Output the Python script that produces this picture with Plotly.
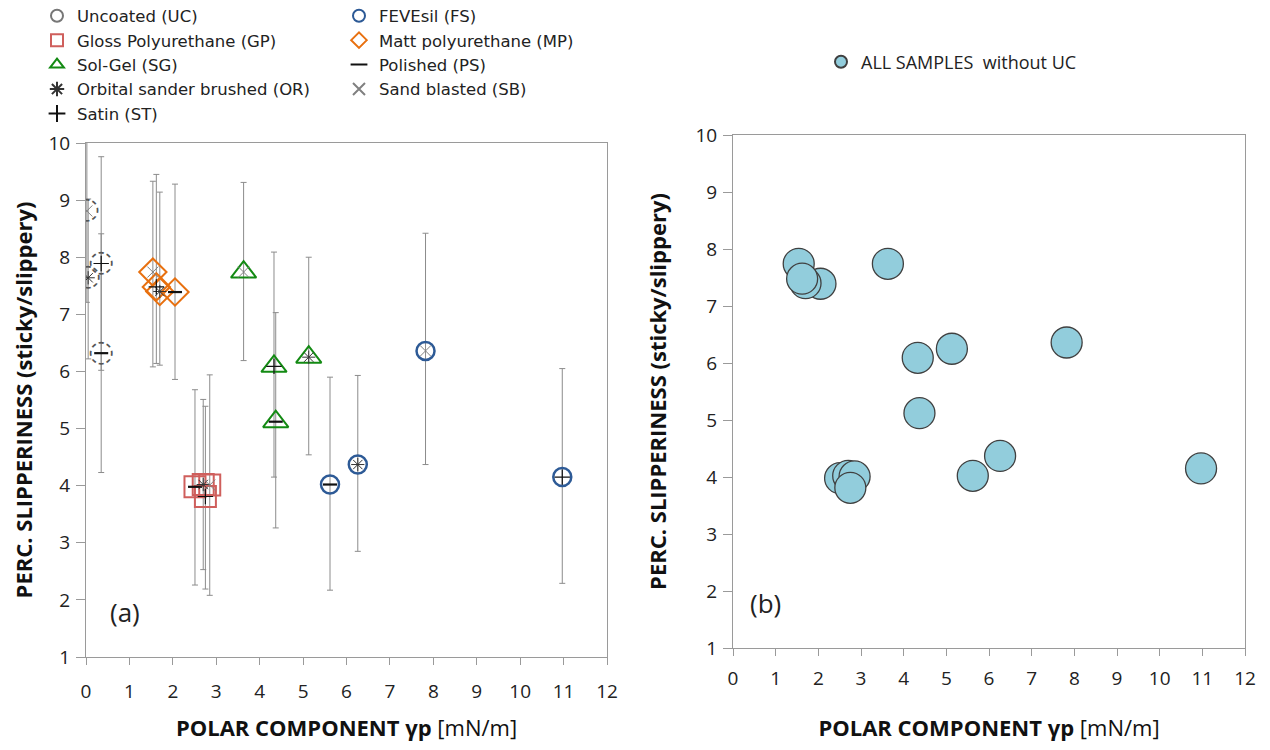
import plotly.graph_objects as go

# ---------------- data ----------------
finishes = ["PS", "OR", "SB", "ST"]   # order inside every coating array
finish_names = {"PS": "Polished (PS)", "OR": "Orbital sander brushed (OR)",
                "SB": "Sand blasted (SB)", "ST": "Satin (ST)"}

UC_x = [0.35, 0.05, 0.02, 0.35]
UC_y = [6.32, 7.64, 8.81, 7.89]
UC_up = [2.09, 1.38, 1.60, 1.87]
UC_dn = [2.09, 1.42, 1.60, 1.87]

GP_x = [2.51, 2.70, 2.85, 2.75]
GP_y = [3.98, 4.02, 4.01, 3.81]
GP_up = [1.70, 1.49, 1.93, 1.58]
GP_dn = [1.72, 1.49, 1.93, 1.62]

MP_x = [2.05, 1.70, 1.54, 1.62]
MP_y = [7.39, 7.40, 7.74, 7.48]
MP_up = [1.89, 1.74, 1.59, 1.97]
MP_dn = [1.53, 1.29, 1.66, 1.34]

SG_x = [4.37, 5.13, 3.63, 4.33]
SG_y = [5.12, 6.25, 7.74, 6.09]
SG_up = [1.91, 1.75, 1.57, 2.00]
SG_dn = [1.86, 1.71, 1.55, 1.94]

FS_x = [5.62, 6.26, 7.82, 10.97]
FS_y = [4.02, 4.37, 6.36, 4.15]
FS_up = [1.88, 1.56, 2.06, 1.90]
FS_dn = [1.85, 1.52, 1.99, 1.86]

x_ticks = list(range(0, 13))
y_ticks = list(range(1, 11))

# ---------------- layout helpers (page pixels -> figure fractions) ----------------
W, H, OFF = 1254, 734, 8          # page body adds an 8 px margin


def fx(px):
    return (px - OFF) / W


def fy(py):
    return 1 - (py - OFF) / H


FONT = "Open Sans"
ERR = dict(type="data", symmetric=False, color="#8C8C8C", thickness=1, width=3)

fig = go.Figure()

# ---- Uncoated: dashed circles drawn as glyphs ----
fig.add_trace(go.Scatter(
    x=UC_x, y=UC_y, mode="text", text=["◌"] * len(UC_x),
    textfont=dict(family="DejaVu Sans", size=30, color="#555555"),
    textposition="middle center",
    error_y=dict(ERR, array=UC_up, arrayminus=UC_dn),
    showlegend=False, xaxis="x", yaxis="y"))
fig.add_trace(go.Scatter(
    x=[None], y=[None], mode="markers", name="Uncoated (UC)",
    marker=dict(symbol="circle-open", size=11, color="#777777", line=dict(width=1)),
    legend="legend", legendrank=1))

coatings = [
    ("GP", "Gloss Polyurethane (GP)", GP_x, GP_y, GP_up, GP_dn, "square-open", 21, "#CF5F5C", 2, "legend", 2),
    ("MP", "Matt polyurethane (MP)", MP_x, MP_y, MP_up, MP_dn, "diamond-open", 21, "#E8700F", 2, "legend2", 2),
    ("SG", "Sol-Gel (SG)", SG_x, SG_y, SG_up, SG_dn, "triangle-up-open", 22, "#138A13", 2, "legend", 3),
    ("FS", "FEVEsil (FS)", FS_x, FS_y, FS_up, FS_dn, "circle-open", 18, "#2D5A96", 2.5, "legend2", 1),
]
for key, name, xs, ys, up, dn, sym, size, col, lw, leg, rank in coatings:
    fig.add_trace(go.Scatter(
        x=xs, y=ys, mode="markers", name=name,
        marker=dict(symbol=sym, size=size, color=col, line=dict(width=lw, color=col)),
        error_y=dict(ERR, array=up, arrayminus=dn),
        legend=leg, legendrank=rank, xaxis="x", yaxis="y"))

inner = {
    "PS": ("line-ew-open", 10, "#111111", 2.2, "legend2", 3),
    "OR": ("asterisk-open", 11, "#333333", 1, "legend", 4),
    "SB": ("x-thin-open", 11, "#808080", 1, "legend2", 4),
    "ST": ("cross-thin-open", 11, "#111111", 1.2, "legend", 5),
}
all_x = [UC_x, GP_x, MP_x, SG_x, FS_x]
all_y = [UC_y, GP_y, MP_y, SG_y, FS_y]
for i, f in enumerate(finishes):
    sym, size, col, lw, leg, rank = inner[f]
    fig.add_trace(go.Scatter(
        x=[xs[i] for xs in all_x], y=[ys[i] for ys in all_y],
        mode="markers", name=finish_names[f],
        marker=dict(symbol=sym, size=size, color=col, line=dict(width=lw, color=col)),
        legend=leg, legendrank=rank, xaxis="x", yaxis="y"))

# ---- right panel: all samples without UC ----
noUC_x = GP_x + MP_x + SG_x + FS_x
noUC_y = GP_y + MP_y + SG_y + FS_y
fig.add_trace(go.Scatter(
    x=noUC_x, y=noUC_y, mode="markers", name="ALL SAMPLES\u00a0 without UC",
    marker=dict(symbol="circle", size=31, color="#92CDDC", line=dict(width=1.3, color="#404040")),
    legend="legend3", xaxis="x2", yaxis="y2"))

axis_common = dict(showline=True, linecolor="#9A9A9A", linewidth=1, mirror=True, automargin=False,
                   showgrid=False, zeroline=False, ticks="outside", tickcolor="#9A9A9A",
                   tickfont=dict(family=FONT, size=19, color="#222222"))
xtitle = "<b>POLAR COMPONENT γp</b> [mN/m]"
ytitle = "<b>PERC. SLIPPERINESS (sticky/slippery)</b>"
tf = dict(family=FONT, size=22, color="#111111")
legfont = dict(family="DejaVu Sans", size=16.5, color="#222222")

fig.update_layout(
    template="none",
    width=W, height=H, margin=dict(l=0, r=0, t=0, b=0, autoexpand=False),
    paper_bgcolor="white", plot_bgcolor="white",
    font=dict(family=FONT, color="#222222"),
    xaxis=dict(axis_common, domain=[fx(86), fx(607)], range=[0, 12], tickvals=x_ticks,
               ticklen=7, ticklabelstandoff=10, anchor="y",
               title=dict(text=xtitle, font=tf, standoff=21)),
    yaxis=dict(axis_common, domain=[fy(657), fy(143)], range=[1, 10],
               tickvals=y_ticks, ticklen=9, ticklabelstandoff=2, anchor="x",
               title=dict(text=ytitle, font=tf, standoff=15)),
    xaxis2=dict(axis_common, domain=[fx(733), fx(1245)], range=[0, 12], tickvals=x_ticks,
                ticklen=7, ticklabelstandoff=6, anchor="y2",
                title=dict(text=xtitle, font=tf, standoff=36)),
    yaxis2=dict(axis_common, domain=[fy(648), fy(135)], range=[1, 10],
                tickvals=y_ticks, ticklen=9, ticklabelstandoff=2, anchor="x2",
                title=dict(text=ytitle, font=tf, standoff=22)),
    legend=dict(x=fx(37), y=1.013, xanchor="left", yanchor="top", bgcolor="rgba(0,0,0,0)",
                font=legfont, tracegroupgap=0, itemsizing="constant"),
    legend2=dict(x=fx(339), y=1.013, xanchor="left", yanchor="top", bgcolor="rgba(0,0,0,0)",
                 font=legfont, tracegroupgap=0, itemsizing="constant"),
    legend3=dict(x=fx(821), y=fy(43.5), xanchor="left", yanchor="top", bgcolor="rgba(0,0,0,0)",
                 font=dict(family=FONT, size=18, color="#222222"), itemsizing="constant"),
    annotations=[
        dict(text="(a)", x=0.5, y=1.79, xref="x", yref="y", showarrow=False,
             font=dict(family=FONT, size=26, color="#222222"), xanchor="left"),
        dict(text="(b)", x=0.35, y=1.79, xref="x2", yref="y2", showarrow=False,
             font=dict(family=FONT, size=26, color="#222222"), xanchor="left"),
    ],
)

fig.write_html("out.html")
